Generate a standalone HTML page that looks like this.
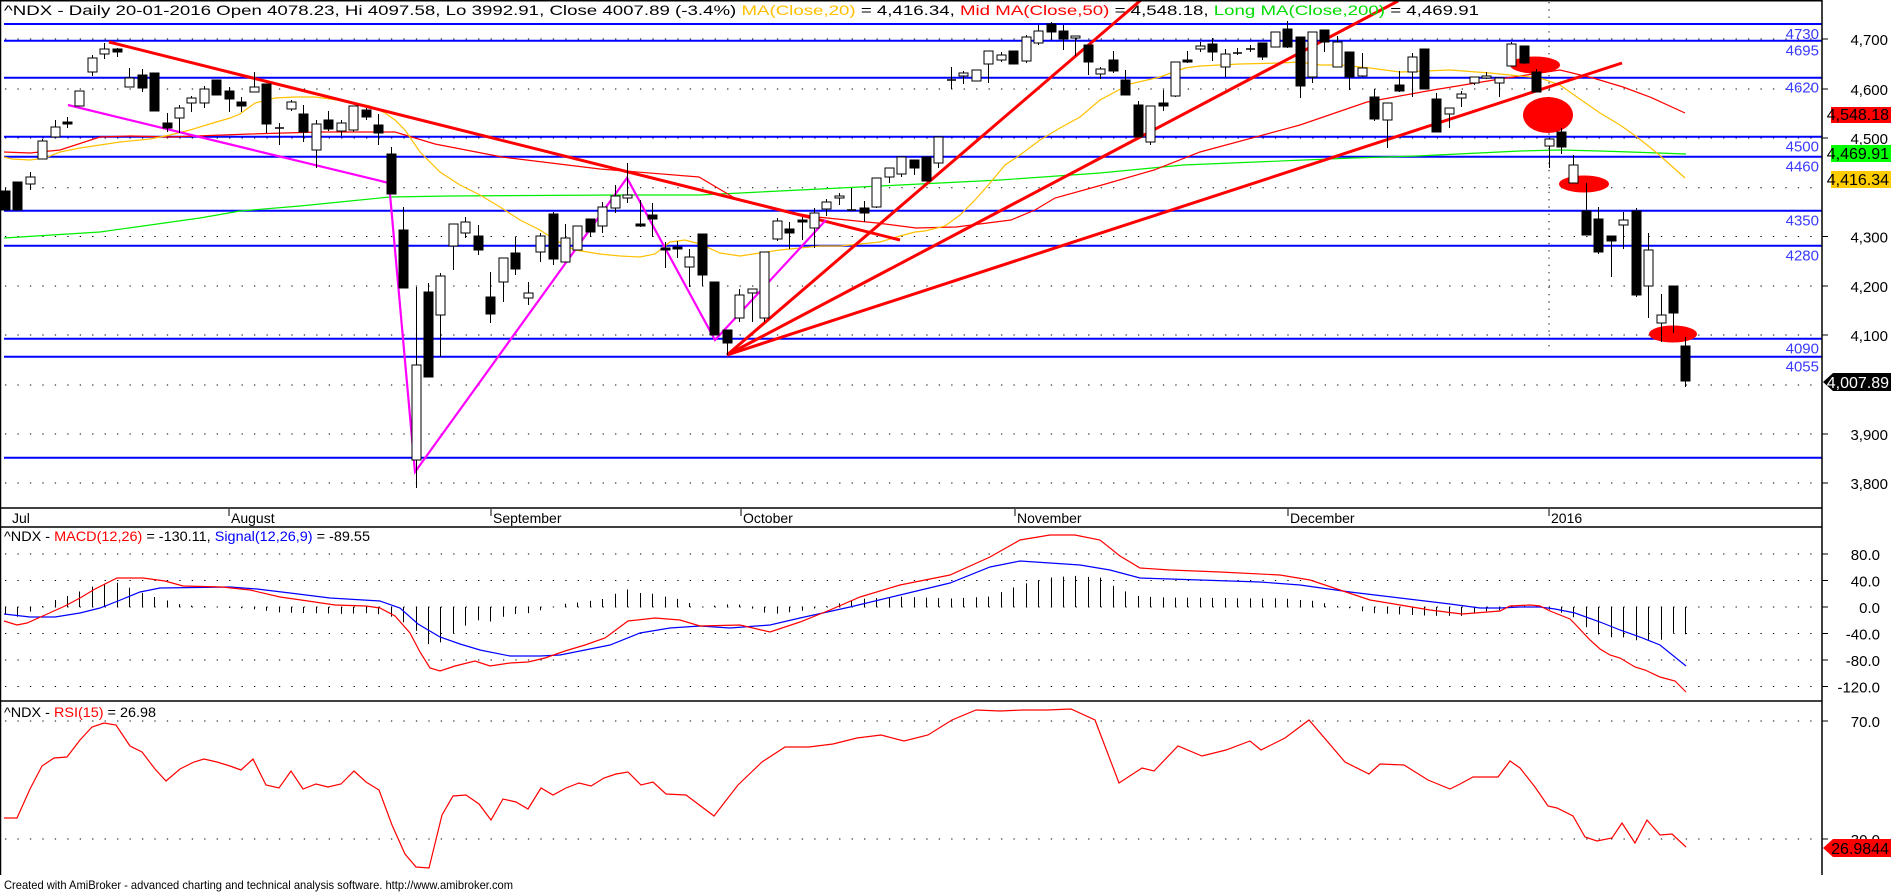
<!DOCTYPE html>
<html><head><meta charset="utf-8"><style>
html,body{margin:0;padding:0;background:#fff;}
svg{display:block;font-family:"Liberation Sans",Arial,sans-serif;}
</style></head><body>
<svg id="s" xmlns="http://www.w3.org/2000/svg" width="1891" height="892" viewBox="0 0 1891 892">
<rect x="0" y="0" width="1891" height="892" fill="#fff"/>
<g id="grid"></g>
<g id="blue"></g>
<g id="ell" fill="#ff0000">
<ellipse cx="1535" cy="65" rx="25" ry="8.5"/>
<ellipse cx="1548" cy="115" rx="25" ry="18"/>
<ellipse cx="1584" cy="184" rx="25" ry="8.5"/>
<ellipse cx="1673" cy="334" rx="24" ry="8.5"/>
</g>
<g id="ma" fill="none" stroke-width="1"></g>
<g id="trend" fill="none">
<line x1="109" y1="42" x2="900" y2="240" stroke="#ff0000" stroke-width="3"/>
<polyline points="68,105 389,183 415,472 627,178 715,340 826,220" stroke="#ff00ff" stroke-width="2.2" fill="none"/>
<line x1="727" y1="355" x2="1141" y2="0" stroke="#ff0000" stroke-width="3"/>
<line x1="727" y1="355" x2="1398" y2="1" stroke="#ff0000" stroke-width="3"/>
<line x1="727" y1="355" x2="1622" y2="63" stroke="#ff0000" stroke-width="3"/>
</g>
<g id="candles"></g>
<g id="macd" fill="none"></g>
<g id="rsi" fill="none"></g>
<g id="frame" stroke="#000" stroke-width="1.5" fill="none">
<line x1="0.5" y1="0" x2="0.5" y2="875"/>
<line x1="0" y1="0.75" x2="1822" y2="0.75"/>
<line x1="1822" y1="0" x2="1822" y2="875"/>
<line x1="0" y1="508" x2="1822" y2="508"/>
<line x1="0" y1="527" x2="1822" y2="527"/>
<line x1="0" y1="701" x2="1822" y2="701"/>
</g>
<g id="axis" font-size="15" fill="#000"></g>
<g font-size="14" fill="#000">
<text x="4" y="15" textLength="1475" lengthAdjust="spacingAndGlyphs">^NDX - Daily 20-01-2016 Open 4078.23, Hi 4097.58, Lo 3992.91, Close 4007.89 (-3.4%) <tspan fill="#ffc000">MA(Close,20)</tspan> = 4,416.34, <tspan fill="#ff0000">Mid MA(Close,50)</tspan> = 4,548.18, <tspan fill="#00dd00">Long MA(Close,200)</tspan> = 4,469.91</text>
<text x="4" y="541" textLength="366" lengthAdjust="spacingAndGlyphs">^NDX - <tspan fill="#ff0000">MACD(12,26)</tspan> = -130.11, <tspan fill="#0000ff">Signal(12,26,9)</tspan> = -89.55</text>
<text x="4" y="717" textLength="152" lengthAdjust="spacingAndGlyphs">^NDX - <tspan fill="#ff0000">RSI(15)</tspan> = 26.98</text>
<text x="4" y="889" font-size="12" textLength="509" lengthAdjust="spacingAndGlyphs">Created with AmiBroker - advanced charting and technical analysis software. http://www.amibroker.com</text>
</g>
</svg>
<script>
(function(){
var NS="http://www.w3.org/2000/svg";
function el(p,t,a,txt){var e=document.createElementNS(NS,t);for(var k in a)e.setAttribute(k,a[k]);if(txt!==undefined)e.textContent=txt;document.getElementById(p).appendChild(e);return e;}
var gy=[39,89,138,187.7,236.5,286,335,385,434,483,554,580.5,607,633.5,660,686.5,721,839];
gy.forEach(function(y){el("grid","line",{x1:5,y1:y,x2:1815,y2:y,stroke:"#000","stroke-width":1,"stroke-dasharray":"1.3 11.15"});});
el("grid","line",{x1:1549,y1:2,x2:1549,y2:352,stroke:"#000","stroke-width":1,"stroke-dasharray":"1.3 6"});
var bl=[[24,"4730"],[40.7,"4695"],[77.7,"4620"],[136.7,"4500"],[156.7,"4460"],[210.7,"4350"],[245.7,"4280"],[338.7,"4090"],[356.7,"4055"],[457.7,""]];
bl.forEach(function(b){el("blue","line",{x1:4,y1:b[0],x2:1822,y2:b[0],stroke:"#0000ff","stroke-width":2});
 if(b[1])el("blue","text",{x:1819,y:b[0]+15,"text-anchor":"end","font-size":"15",fill:"#3a3aff"},b[1]);});
function pl(g,pts,col,w){el(g,"polyline",{points:pts.map(function(p){return p[0]+","+p[1];}).join(" "),stroke:col,"stroke-width":w||1,fill:"none"});}
var green=[[4,238],[100,232],[200,218],[240,211],[300,206],[350,201],[390,197],[450,196],[620,195],[700,195],[800,190],[900,185],[1000,180],[1100,173],[1183,165],[1353,158],[1417,156],[1520,151],[1560,150],[1600,151],[1630,152],[1686,154]];
var red=[[4,152],[30,153],[60,150],[100,137],[130,136],[170,137],[250,134],[320,132],[395,132],[435,144],[502,157],[600,169],[699,177],[738,200],[778,210],[817,217],[877,223],[916,228],[956,227],[1011,220],[1035,210],[1055,198],[1102,185],[1154,170],[1200,152],[1300,125],[1367,102],[1433,90],[1500,79],[1560,70],[1593,78],[1623,87],[1650,97],[1685,113]];
var yel=[[4,157],[12,159],[30,160],[45,158],[60,152],[80,148],[100,145],[120,142],[150,139],[170,135],[190,130],[213,123],[230,118],[240,114],[255,103],[275,98],[295,97],[315,97],[330,99],[350,102],[370,106],[385,113],[395,120],[405,130],[420,152],[440,172],[460,185],[480,195],[500,207],[520,220],[540,230],[555,240],[575,250],[600,254],[620,256],[640,257],[655,254],[670,242],[685,240],[700,244],[720,253],[740,256],[760,253],[780,250],[800,248],[820,246],[840,246],[860,244],[880,242],[900,236],[915,232],[925,231],[945,226],[960,215],[975,200],[990,183],[1005,165],[1020,155],[1040,140],[1060,128],[1080,117],[1100,100],[1130,84],[1160,77],[1185,68],[1200,66],[1240,64],[1280,63],[1300,62],[1320,65],[1340,65],[1370,68],[1400,72],[1450,70],[1490,73],[1540,78],[1560,85],[1577,97],[1600,113],[1620,125],[1637,137],[1657,153],[1685,178]];
pl("ma",green,"#00ee00",1.2);pl("ma",red,"#ff0000",1.2);pl("ma",yel,"#ffc000",1.2);
var C=[["b",191,210,188,210],["b",182,210,182,210],["w",177,184,172,190],["w",141,159,139,159],["w",127,137,120,137],["b",122,124,117,128],["w",91,106,91,106],["w",58,72,55,76],["w",49,54,43,59],["b",49,52,48,57],
["w",78,87,68,87],["b",75,88,69,92],["b",73,111,73,111],["b",123,128,113,132],["w",108,118,105,133],["w",98,103,96,112],["w",89,103,86,108],["b",80,95,80,95],["b",91,99,87,112],["b",102,106,97,112],
["w",87,92,72,92],["b",84,124,84,133],["x",128,128,123,145],["w",102,109,100,111],["b",114,132,105,142],["w",124,150,120,168],["b",120,129,111,131],["w",123,131,120,136],["w",106,130,106,132],["b",110,117,108,120],
["b",125,133,114,145],["b",154,194,147,194],["b",230,288,207,288],["w",365,460,287,488],["b",292,377,283,377],["w",276,315,273,357],["w",224,246,224,270],["w",222,233,217,238],["b",236,250,225,255],["b",297,314,272,323],
["w",258,282,258,302],["b",253,269,237,275],["w",293,298,282,305],["w",236,252,233,262],["b",214,259,212,265],["w",238,262,224,262],["w",226,250,226,250],["b",219,232,219,237],["w",207,226,202,233],["w",196,208,185,213],
["w",195,198,163,203],["b",224,226,200,227],["b",215,219,203,237],["b",248,250,242,268],["b",247,249,241,258],["w",257,267,249,287],["b",234,275,234,286],["b",282,335,282,335],["b",330,343,330,355],["w",295,318,289,322],
["w",289,293,289,322],["w",252,318,252,322],["w",221,239,218,241],["b",229,233,222,249],["b",220,222,217,240],["w",213,228,208,248],["w",202,209,199,216],["w",196,198,193,205],["x",210,210,188,210],["b",208,213,201,222],
["w",178,207,178,208],["w",168,177,168,183],["w",157,174,157,177],["b",160,168,160,175],["b",157,181,157,181],["w",137,163,137,168],["x",80,80,67,89],["w",73,76,71,84],["w",70,81,70,81],["w",51,64,51,83],
["w",55,60,52,62],["b",51,64,51,64],["w",37,61,35,63],["w",31,43,25,45],["b",24,32,22,40],["b",31,39,25,50],["w",36,38,36,56],["b",45,62,45,75],["w",69,74,67,79],["b",60,71,51,73],
["b",80,95,70,95],["b",105,137,101,137],["w",106,142,106,145],["b",103,106,90,111],["w",62,96,62,97],["b",60,62,51,63],["w",46,49,42,52],["b",44,52,38,61],["w",54,67,49,77],["x",53,53,48,55],
["x",49,49,45,52],["b",43,57,43,60],["w",32,47,32,47],["b",29,47,21,48],["b",37,86,37,98],["w",32,77,32,83],["b",30,42,30,52],["w",42,67,36,67],["b",52,77,52,90],["w",68,76,53,77],
["b",97,119,89,121],["w",103,120,103,148],["b",85,91,71,92],["w",57,72,53,97],["b",49,89,49,89],["b",99,132,93,132],["w",108,114,108,128],["w",94,98,91,107],["w",77,83,77,85],["w",76,78,72,79],
["w",78,83,78,97],["w",44,66,42,66],["b",46,63,46,64],["b",72,92,69,92],["w",139,146,139,168],["b",132,147,128,154],["w",165,183,155,183],["b",211,235,183,235],["b",219,252,207,254],["b",236,241,236,277],
["w",220,225,212,249],["b",211,295,208,297],["w",250,286,233,318],["w",315,323,294,342],["b",286,313,286,333],["b",346,381,337,387]];
function bx(i){return 4.7+i*12.45;}
C.forEach(function(c,i){var x=Math.round(bx(i))+0.5;
 el("candles","line",{x1:x,y1:c[3],x2:x,y2:c[4],stroke:"#000","stroke-width":1});
 if(c[0]=="x"){el("candles","line",{x1:x-4.5,y1:c[1],x2:x+4.5,y2:c[1],stroke:"#000","stroke-width":1.5});return;}
 var h=Math.max(c[2]-c[1],2);
 el("candles","rect",{x:x-4.5,y:c[1],width:9,height:h,fill:c[0]=="b"?"#000":"#fff",stroke:"#000","stroke-width":1});
});
var mr=[[4,621],[17,625],[27,623],[45,615],[65,606],[80,598],[95,589],[117,578],[143,578],[165,581],[183,586],[222,587],[250,590],[280,597],[308,601],[335,605],[366,606],[380,608],[395,616],[410,633],[420,652],[430,668],[440,671],[455,666],[475,661],[490,666],[510,663],[528,662],[545,658],[565,651],[585,645],[605,638],[628,621],[655,618],[680,620],[700,626],[740,625],[770,632],[800,622],[830,610],[860,597],[900,585],[950,575],[990,557],[1020,540],[1050,535],[1075,535],[1100,540],[1120,556],[1140,568],[1170,570],[1220,572],[1280,575],[1310,580],[1340,590],[1370,600],[1400,605],[1430,610],[1462,614],[1500,611],[1510,606],[1530,605],[1540,606],[1550,611],[1570,619],[1575,624],[1590,640],[1600,649],[1610,655],[1620,658],[1635,667],[1645,670],[1660,677],[1675,681],[1686,692]];
var mb=[[4,614],[30,617],[55,617],[80,613],[100,608],[118,601],[140,592],[160,588],[230,587],[257,589],[290,593],[330,598],[380,601],[400,608],[418,624],[440,637],[460,644],[480,650],[510,656],[540,656],[560,655],[580,651],[610,645],[640,633],[670,628],[700,626],[730,628],[770,625],[800,618],[850,607],[900,595],[950,583],[990,567],[1020,561],[1050,563],[1080,565],[1110,570],[1140,578],[1200,580],[1260,582],[1300,585],[1350,592],[1400,598],[1450,604],[1480,608],[1500,608],[1520,607],[1540,607],[1555,609],[1575,613],[1600,622],[1620,630],[1640,637],[1660,645],[1686,666]];
function interp(a,x){for(var i=1;i<a.length;i++){if(x<=a[i][0]){var t=(x-a[i-1][0])/(a[i][0]-a[i-1][0]);return a[i-1][1]+t*(a[i][1]-a[i-1][1]);}}return a[a.length-1][1];}
C.forEach(function(c,i){var x=Math.round(bx(i))+0.5;var d=(interp(mr,x)-interp(mb,x))*1.05;
 if(Math.abs(d)>0.8)el("macd","line",{x1:x,y1:607,x2:x,y2:607+d,stroke:"#000","stroke-width":1});});
pl("macd",mb,"#0000ff",1.2);pl("macd",mr,"#ff0000",1.2);
var rs=[[4,818],[17,818],[30,789],[42,766],[54,758],[67,757],[80,740],[92,727],[104,723],[116,725],[130,746],[142,752],[155,769],[166,781],[180,769],[194,762],[204,759],[217,762],[230,766],[241,770],[253,759],[266,785],[279,788],[291,771],[303,789],[316,784],[328,787],[341,784],[354,771],[366,782],[379,790],[392,825],[405,854],[416,867],[429,868],[442,815],[453,796],[466,795],[479,804],[491,820],[503,799],[516,802],[528,809],[541,788],[553,795],[566,788],[579,783],[591,786],[604,778],[616,774],[628,772],[641,785],[653,782],[666,794],[686,795],[714,816],[738,785],[762,762],[785,747],[809,747],[833,744],[857,738],[881,735],[904,741],[928,735],[952,720],[976,710],[1000,711],[1023,710],[1047,710],[1071,709],[1095,720],[1119,783],[1142,768],[1154,771],[1178,746],[1202,756],[1226,750],[1250,741],[1261,750],[1285,738],[1309,720],[1345,762],[1369,774],[1380,764],[1404,765],[1428,780],[1450,789],[1460,784],[1473,777],[1498,777],[1510,761],[1520,768],[1535,787],[1548,806],[1557,808],[1573,816],[1585,837],[1597,841],[1612,838],[1622,823],[1635,843],[1647,820],[1660,835],[1672,834],[1686,847]];
pl("rsi",rs,"#ff0000",1.2);
var al=[[39,"4,700"],[89,"4,600"],[138,"4,500"],[236.5,"4,300"],[286,"4,200"],[335,"4,100"],[434,"3,900"],[483,"3,800"]];
al.forEach(function(a){el("axis","line",{x1:1822,y1:a[0],x2:1828,y2:a[0],stroke:"#000"});el("axis","text",{x:1888,y:a[0]+6,"text-anchor":"end"},a[1]);});
var ml=[[554,"80.0"],[580.5,"40.0"],[607,"0.0"],[633.5,"-40.0"],[660,"-80.0"],[686.5,"-120.0"],[721,"70.0"],[839,"30.0"]];
ml.forEach(function(a){el("axis","line",{x1:1822,y1:a[0],x2:1828,y2:a[0],stroke:"#000"});el("axis","text",{x:1880,y:a[0]+6,"text-anchor":"end"},a[1]);});
function tag(y1,y2,col,txt,tc,arrow){
 if(arrow){el("axis","polygon",{points:"1823,"+((y1+y2)/2)+" 1833,"+y1+" 1891,"+y1+" 1891,"+y2+" 1833,"+y2,fill:col});}
 else el("axis","rect",{x:1831,y:y1,width:60,height:y2-y1,fill:col});
 el("axis","text",{x:1889,y:y2-3,"text-anchor":"end",fill:tc,"font-size":"16"},txt);}
tag(107,123,"#ff0000","4,548.18","#000",false);
tag(145,162,"#00ff00","4,469.91","#000",false);
tag(171,188,"#ffcc00","4,416.34","#000",false);
tag(373,391,"#000","4,007.89","#fff",true);
tag(839,857,"#ff0000","26.9844","#000",true);
var dl=[[10,"Jul",false],[229,"August",true],[491,"September",true],[741,"October",true],[1015,"November",true],[1288,"December",true],[1549,"2016",true]];
dl.forEach(function(d){if(d[2])el("axis","line",{x1:d[0],y1:509,x2:d[0],y2:516,stroke:"#000"});el("axis","text",{x:d[0]+2,y:523,"font-size":"14"},d[1]);});
})();
</script>
</body></html>
